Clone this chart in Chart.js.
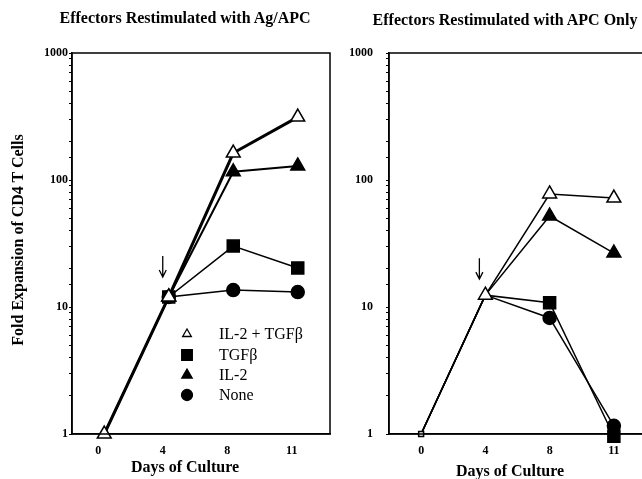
<!DOCTYPE html>
<html>
<head>
<meta charset="utf-8">
<script src="https://cdn.jsdelivr.net/npm/chart.js@4/dist/chart.umd.min.js"></script>
<style>
  html, body { margin:0; padding:0; background:#fff; }
  body { width:642px; height:479px; overflow:hidden; position:relative; font-family:"Liberation Serif", "Times New Roman", serif; }
  canvas { position:absolute; top:0; }
  .t { position:absolute; font-weight:bold; white-space:nowrap; text-align:center; color:#000; }
</style>
</head>
<body>
<canvas id="cL" width="340" height="479" style="left:0px"></canvas>
<canvas id="cR" width="335" height="479" style="left:325px"></canvas>
<div class="t" style="left:0px;width:370px;top:9px;font-size:16px;line-height:18px;">Effectors Restimulated with Ag/APC</div>
<div class="t" style="left:325px;width:360px;top:11px;font-size:16px;line-height:18px;">Effectors Restimulated with APC Only</div>
<div class="t" style="left:35px;width:300px;top:458px;font-size:16px;line-height:18px;">Days of Culture</div>
<div class="t" style="left:360px;width:300px;top:462px;font-size:16px;line-height:18px;">Days of Culture</div>
<div class="t" style="left:-132px;width:300px;top:231px;font-size:16px;line-height:18px;transform:rotate(-90deg);">Fold Expansion of CD4 T Cells</div>
<script>
// ---- data ----
const DAYS = ['0', '4', '8', '11'];
const SERIES_NAMES = ['IL-2 + TGF\u03B2', 'TGF\u03B2', 'IL-2', 'None'];
const Y_TICK_LABELS = [1, 10, 100, 1000];

// Effectors restimulated with Ag/APC
const AG_IL2_TGFB = [1, 12.0, 163, 313];
const AG_TGFB     = [1, 12.0, 30.2, 20.3];
const AG_IL2      = [1, 12.0, 116, 129];
const AG_NONE     = [1, 12.0, 13.6, 13.1];

// Effectors restimulated with APC only
const APC_IL2_TGFB = [1, 12.4, 77.6, 72];
const APC_TGFB     = [1, 12.4, 10.8, 0.96];
const APC_IL2      = [1, 12.4, 52, 26.6];
const APC_NONE     = [1, 12.4, 8.2, 1.16];

const FONT_FAMILY = '"Liberation Serif", "Times New Roman", serif';

// marker styles per series
const STYLES = [
  { pointStyle: 'triangle', radius: 8, fill: '#fff', legendRadius: 5 },
  { pointStyle: 'rect', radius: 8.5, fill: '#000', legendRadius: 7.5 },
  { pointStyle: 'triangle', radius: 8, fill: '#000', legendRadius: 6 },
  { pointStyle: 'circle', radius: 6.5, fill: '#000', legendRadius: 5.5 }
];

const framePlugin = {
  id: 'frame',
  afterDraw(chart, args, opts) {
    const a = chart.chartArea, ctx = chart.ctx;
    ctx.save();
    ctx.strokeStyle = '#000';
    ctx.lineWidth = 1.5;
    ctx.strokeRect(a.left, a.top, a.right - a.left, a.bottom - a.top);
    ctx.restore();
  }
};

const arrowPlugin = {
  id: 'arrow',
  afterDatasetsDraw(chart, args, opts) {
    const xs = chart.scales.x, ys = chart.scales.y, ctx = chart.ctx;
    const v = chart.data.datasets[0].data[opts.index];
    const x = xs.getPixelForValue(opts.index) - 6;
    const tip = ys.getPixelForValue(v) - opts.gap;
    ctx.save();
    ctx.strokeStyle = '#000';
    ctx.lineWidth = 1.3;
    ctx.beginPath();
    ctx.moveTo(x, tip - 21);
    ctx.lineTo(x, tip);
    ctx.moveTo(x - 3.5, tip - 7);
    ctx.lineTo(x, tip);
    ctx.lineTo(x + 3.5, tip - 7);
    ctx.stroke();
    ctx.restore();
  }
};

const legendPlugin = {
  id: 'innerLegend',
  afterDraw(chart, args, opts) {
    if (!opts.show) return;
    const ctx = chart.ctx, a = chart.chartArea;
    const x0 = a.left + 115, tx = a.left + 147;
    const rows = [a.top + 281, a.top + 302, a.top + 322, a.top + 342];
    ctx.save();
    SERIES_NAMES.forEach((name, i) => {
      const s = STYLES[i];
      ctx.fillStyle = s.fill;
      ctx.strokeStyle = '#000';
      ctx.lineWidth = 1.3;
      Chart.helpers.drawPoint(ctx, { pointStyle: s.pointStyle, radius: s.legendRadius, rotation: 0, borderWidth: 1.3 }, x0, rows[i]);
      ctx.fillStyle = '#000';
      ctx.font = '16px ' + FONT_FAMILY;
      ctx.textBaseline = 'middle';
      ctx.textAlign = 'left';
      ctx.fillText(name, tx, rows[i] + 1);
    });
    ctx.restore();
  }
};

function makeDatasets(series, widths, hideFirst) {
  return series.map((vals, i) => {
    const s = STYLES[i];
    const radii = vals.map((v, j) => {
      if (j === 0) return i === 0 ? (hideFirst ? 3.5 : s.radius) : 0;
      if (hideFirst && j === 1 && i !== 0) return 0;
      return s.radius;
    });
    const styles = vals.map((v, j) => (hideFirst && j === 0 && i === 0) ? 'rect' : s.pointStyle);
    return {
      label: SERIES_NAMES[i],
      data: vals,
      borderColor: '#000',
      borderWidth: widths[i],
      pointBackgroundColor: s.fill,
      pointBorderColor: '#000',
      pointBorderWidth: 1.5,
      pointRadius: radii,
      pointHoverRadius: radii,
      pointStyle: styles,
      tension: 0,
      clip: false
    };
  });
}

function makeChart(id, series, widths, opt) {
  return new Chart(document.getElementById(id), {
    type: 'line',
    data: { labels: DAYS, datasets: makeDatasets(series, widths, opt.hideFirst) },
    options: {
      responsive: false,
      animation: false,
      events: [],
      layout: { padding: { left: 0, right: opt.padRight, top: 53, bottom: 0 } },
      plugins: {
        legend: { display: false },
        tooltip: { enabled: false },
        title: { display: false },
        arrow: { index: 1, gap: opt.arrowGap },
        innerLegend: { show: opt.legend }
      },
      scales: {
        x: {
          type: 'category',
          offset: true,
          grid: { display: false },
          border: { display: true, color: '#000', width: 1.5 },
          ticks: {
            padding: 2,
            labelOffset: opt.xLabelOffset,
            color: '#000',
            font: { family: FONT_FAMILY, size: 12, weight: 'bold' }
          },
          afterFit(scale) { scale.height = 45; }
        },
        y: {
          type: 'logarithmic',
          min: 1,
          max: 1000,
          grid: {
            drawOnChartArea: false,
            tickLength: 3,
            tickColor: '#000',
            tickWidth: 1
          },
          border: { display: true, color: '#000', width: 1.5 },
          ticks: {
            padding: opt.yPad,
            color: '#000',
            autoSkip: false,
            font: { family: FONT_FAMILY, size: 12, weight: 'bold' },
            callback: (v) => Y_TICK_LABELS.includes(v) ? String(v) : ''
          },
          afterFit(scale) { scale.width = opt.yWidth; }
        }
      }
    },
    plugins: [framePlugin, arrowPlugin, legendPlugin]
  });
}

makeChart('cL', [AG_IL2_TGFB, AG_TGFB, AG_IL2, AG_NONE], [3, 1.5, 2, 1.5],
  { padRight: 9, yWidth: 72, yPad: 1, legend: true, hideFirst: false, arrowGap: 20, xLabelOffset: -6 });
makeChart('cR', [APC_IL2_TGFB, APC_TGFB, APC_IL2, APC_NONE], [1.5, 1.5, 1.5, 1.5],
  { padRight: 14, yWidth: 64, yPad: 13, legend: false, hideFirst: true, arrowGap: 16, xLabelOffset: 0 });
</script>
</body>
</html>
